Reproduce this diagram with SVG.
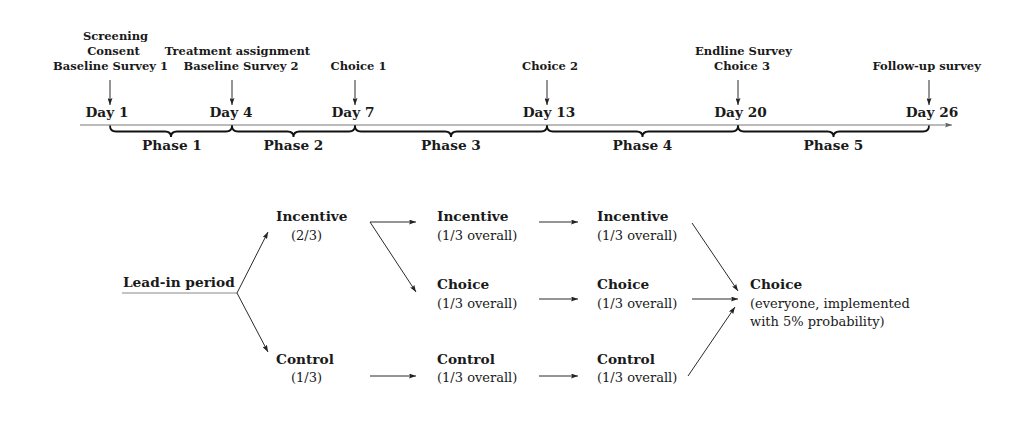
<svg xmlns="http://www.w3.org/2000/svg" width="1022" height="426" viewBox="0 0 1022 426">
<defs>
<marker id="ah" viewBox="0 0 7 5" refX="7" refY="2.5" markerWidth="7" markerHeight="5" orient="auto" markerUnits="userSpaceOnUse">
<path d="M0,0 L7,2.5 L0,5 L1.2,2.5 z" fill="#222"/>
</marker>
<marker id="ahg" viewBox="0 0 7 5" refX="7" refY="2.5" markerWidth="7" markerHeight="5" orient="auto" markerUnits="userSpaceOnUse">
<path d="M0,0 L7,2.5 L0,5 L1.2,2.5 z" fill="#666"/>
</marker>
</defs>
<style>
text{font-family:"DejaVu Serif","Liberation Serif",serif;fill:#1a1a1a}
.b{font-weight:bold;font-size:13.7px}
.s{font-weight:bold;font-size:11.5px;text-anchor:middle}
.m{text-anchor:middle}
.r{font-size:13px}
.c{stroke:#2a2a2a;stroke-width:1;fill:none;marker-end:url(#ah)}
.br{stroke:#111;stroke-width:1.8;fill:none}
</style>
<rect width="1022" height="426" fill="#fff"/>

<g id="timeline">
<line x1="80" y1="125" x2="952" y2="125" stroke="#777" stroke-width="1" marker-end="url(#ahg)"/>
</g>

<g id="event-day1">
<text class="s" x="115.5" y="40">Screening</text>
<text class="s" x="113.5" y="55">Consent</text>
<text class="s" x="110.5" y="70">Baseline Survey 1</text>
<text class="b m" x="107" y="117">Day 1</text>
</g>
<g id="event-day4">
<text class="s" x="237.5" y="55">Treatment assignment</text>
<text class="s" x="241" y="70">Baseline Survey 2</text>
<text class="b m" x="231" y="117">Day 4</text>
</g>
<g id="event-day7">
<text class="s" x="358.5" y="70">Choice 1</text>
<text class="b m" x="353" y="117">Day 7</text>
</g>
<g id="event-day13">
<text class="s" x="550" y="70">Choice 2</text>
<text class="b m" x="549" y="117">Day 13</text>
</g>
<g id="event-day20">
<text class="s" x="743.5" y="55">Endline Survey</text>
<text class="s" x="742" y="70">Choice 3</text>
<text class="b m" x="740.5" y="117">Day 20</text>
</g>
<g id="event-day26">
<text class="s" x="926.7" y="70">Follow-up survey</text>
<text class="b m" x="932" y="117">Day 26</text>
</g>

<g id="phase1">
<path class="br" d="M110,125.5 Q110,131.5 116,131.5 L165,131.5 Q171,131.5 171,137 Q171,131.5 177,131.5 L226,131.5 Q232,131.5 232,125.5"/>
<text class="b m" x="172" y="150">Phase 1</text>
</g>
<g id="phase2">
<path class="br" d="M232,125.5 Q232,131.5 238,131.5 L287.5,131.5 Q293.5,131.5 293.5,137 Q293.5,131.5 299.5,131.5 L349,131.5 Q355,131.5 355,125.5"/>
<text class="b m" x="293.5" y="150">Phase 2</text>
</g>
<g id="phase3">
<path class="br" d="M355,125.5 Q355,131.5 361,131.5 L445,131.5 Q451,131.5 451,137 Q451,131.5 457,131.5 L541,131.5 Q547,131.5 547,125.5"/>
<text class="b m" x="451" y="150">Phase 3</text>
</g>
<g id="phase4">
<path class="br" d="M547,125.5 Q547,131.5 553,131.5 L636.5,131.5 Q642.5,131.5 642.5,137 Q642.5,131.5 648.5,131.5 L732,131.5 Q738,131.5 738,125.5"/>
<text class="b m" x="642.5" y="150">Phase 4</text>
</g>
<g id="phase5">
<path class="br" d="M738,125.5 Q738,131.5 744,131.5 L827.5,131.5 Q833.5,131.5 833.5,137 Q833.5,131.5 839.5,131.5 L923,131.5 Q929,131.5 929,125.5"/>
<text class="b m" x="833.5" y="150">Phase 5</text>
</g>

<g id="leadin">
<text class="b" x="123" y="287">Lead-in period</text>
<line x1="122" y1="293" x2="237" y2="293" stroke="#888" stroke-width="1"/>
</g>
<g id="incentive1">
<text class="b" x="276" y="221">Incentive</text>
<text class="r" x="291" y="239.5">(2/3)</text>
</g>
<g id="control1">
<text class="b" x="276" y="363.5">Control</text>
<text class="r" x="291" y="382">(1/3)</text>
</g>
<g id="incentive2">
<text class="b" x="437" y="221">Incentive</text>
<text class="r" x="437" y="239.5">(1/3 overall)</text>
</g>
<g id="choice2">
<text class="b" x="437" y="289">Choice</text>
<text class="r" x="437" y="307.5">(1/3 overall)</text>
</g>
<g id="control2">
<text class="b" x="437" y="363.5">Control</text>
<text class="r" x="437" y="382">(1/3 overall)</text>
</g>
<g id="incentive3">
<text class="b" x="597" y="221">Incentive</text>
<text class="r" x="597" y="239.5">(1/3 overall)</text>
</g>
<g id="choice3">
<text class="b" x="597" y="289">Choice</text>
<text class="r" x="597" y="307.5">(1/3 overall)</text>
</g>
<g id="control3">
<text class="b" x="597" y="363.5">Control</text>
<text class="r" x="597" y="382">(1/3 overall)</text>
</g>
<g id="final-choice">
<text class="b" x="750" y="289">Choice</text>
<text class="r" x="750" y="307.5">(everyone, implemented</text>
<text class="r" x="750" y="326">with 5% probability)</text>
</g>

<g id="connectors">
<line class="c" x1="110" y1="80" x2="110" y2="105"/>
<line class="c" x1="232" y1="80" x2="232" y2="105"/>
<line class="c" x1="355" y1="80" x2="355" y2="105"/>
<line class="c" x1="547" y1="80" x2="547" y2="105"/>
<line class="c" x1="738" y1="80" x2="738" y2="105"/>
<line class="c" x1="929" y1="80" x2="929" y2="105"/>
<line class="c" x1="237" y1="293" x2="268" y2="232"/>
<line class="c" x1="237" y1="293" x2="268" y2="352"/>
<line class="c" x1="370" y1="222" x2="416" y2="222"/>
<line class="c" x1="370" y1="222" x2="416" y2="292"/>
<line class="c" x1="370" y1="376" x2="416" y2="376"/>
<line class="c" x1="539" y1="222" x2="578" y2="222"/>
<line class="c" x1="539" y1="299" x2="578" y2="299"/>
<line class="c" x1="539" y1="376" x2="578" y2="376"/>
<line class="c" x1="692" y1="223" x2="738" y2="291"/>
<line class="c" x1="692" y1="299" x2="738" y2="299"/>
<line class="c" x1="688" y1="376" x2="735" y2="307"/>
</g>
</svg>
